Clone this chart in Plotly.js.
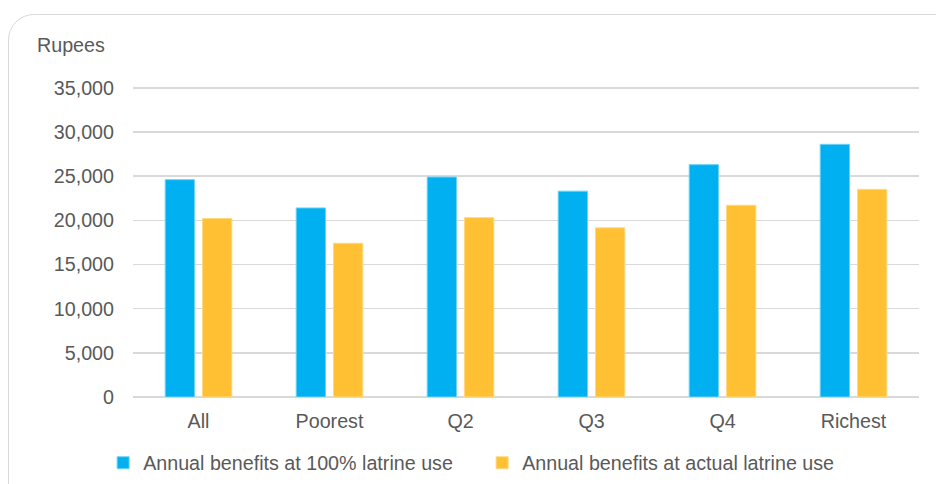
<!DOCTYPE html>
<html>
<head>
<meta charset="utf-8">
<script src="https://cdn.plot.ly/plotly-3.0.1.min.js"></script>
<style>
  html, body { margin: 0; padding: 0; background: #ffffff; }
  #frame { position: absolute; left: 8px; top: 14px; width: 1000px; height: 600px;
           border: 1.5px solid #d9d9d9; border-radius: 26px; box-sizing: border-box; }
  #chart { position: absolute; left: 0; top: 0; width: 936px; height: 484px; }
</style>
</head>
<body>
<div id="frame"></div>
<div id="chart"></div>
<script>
const categories = ["All", "Poorest", "Q2", "Q3", "Q4", "Richest"];
const benefitsFull = [24600, 21400, 24900, 23300, 26300, 28600];
const benefitsActual = [20200, 17400, 20300, 19150, 21700, 23500];
const seriesNames = ["Annual benefits at 100% latrine use", "Annual benefits at actual latrine use"];
const yTicks = [0, 5000, 10000, 15000, 20000, 25000, 30000, 35000];
const yTickLabels = ["0", "5,000", "10,000", "15,000", "20,000", "25,000", "30,000", "35,000"];

const textColor = "#595959";
const fontFamily = "'Liberation Sans', Arial, sans-serif";
const fs = 19.7;

const traces = [
  { type: "bar", name: seriesNames[0], x: categories, y: benefitsFull,
    marker: { color: "#00b0f0", line: { color: "#6fd3f7", width: 1 } }, hoverinfo: "skip" },
  { type: "bar", name: seriesNames[1], x: categories, y: benefitsActual,
    marker: { color: "#ffc133", line: { color: "#ffd980", width: 1 } }, hoverinfo: "skip" }
];

const layout = {
  width: 936, height: 484,
  margin: { l: 133, r: 17, t: 86, b: 87, autoexpand: false },
  paper_bgcolor: "rgba(0,0,0,0)", plot_bgcolor: "rgba(0,0,0,0)",
  font: { family: fontFamily, size: fs, color: textColor },
  barmode: "group", bargap: 0.43, bargroupgap: 0.215,
  showlegend: true,
  legend: { orientation: "h", x: -0.038, xanchor: "left", y: -0.212, yanchor: "middle",
            font: { size: fs, color: textColor }, entrywidth: 334, entrywidthmode: "pixels",
            bgcolor: "rgba(0,0,0,0)", traceorder: "normal" },
  xaxis: { type: "category", showgrid: false, zeroline: false, showline: false, automargin: false,
           ticks: "", ticklabelstandoff: 10, tickfont: { size: fs, color: textColor } },
  yaxis: { range: [0, 35200], tickvals: yTicks, ticktext: yTickLabels, automargin: false,
           showgrid: true, gridcolor: "#d9d9d9", gridwidth: 1.5, zeroline: true,
           zerolinecolor: "#d9d9d9", zerolinewidth: 1.5, showline: false, ticks: "",
           ticklabelstandoff: 18, tickfont: { size: fs, color: textColor } },
  annotations: [
    { text: "Rupees", xref: "paper", yref: "paper", x: -0.125, y: 1.132,
      xanchor: "left", yanchor: "middle", showarrow: false,
      font: { size: fs, color: textColor } }
  ]
};

Plotly.newPlot("chart", traces, layout, { displayModeBar: false, staticPlot: true });
</script>
</body>
</html>
